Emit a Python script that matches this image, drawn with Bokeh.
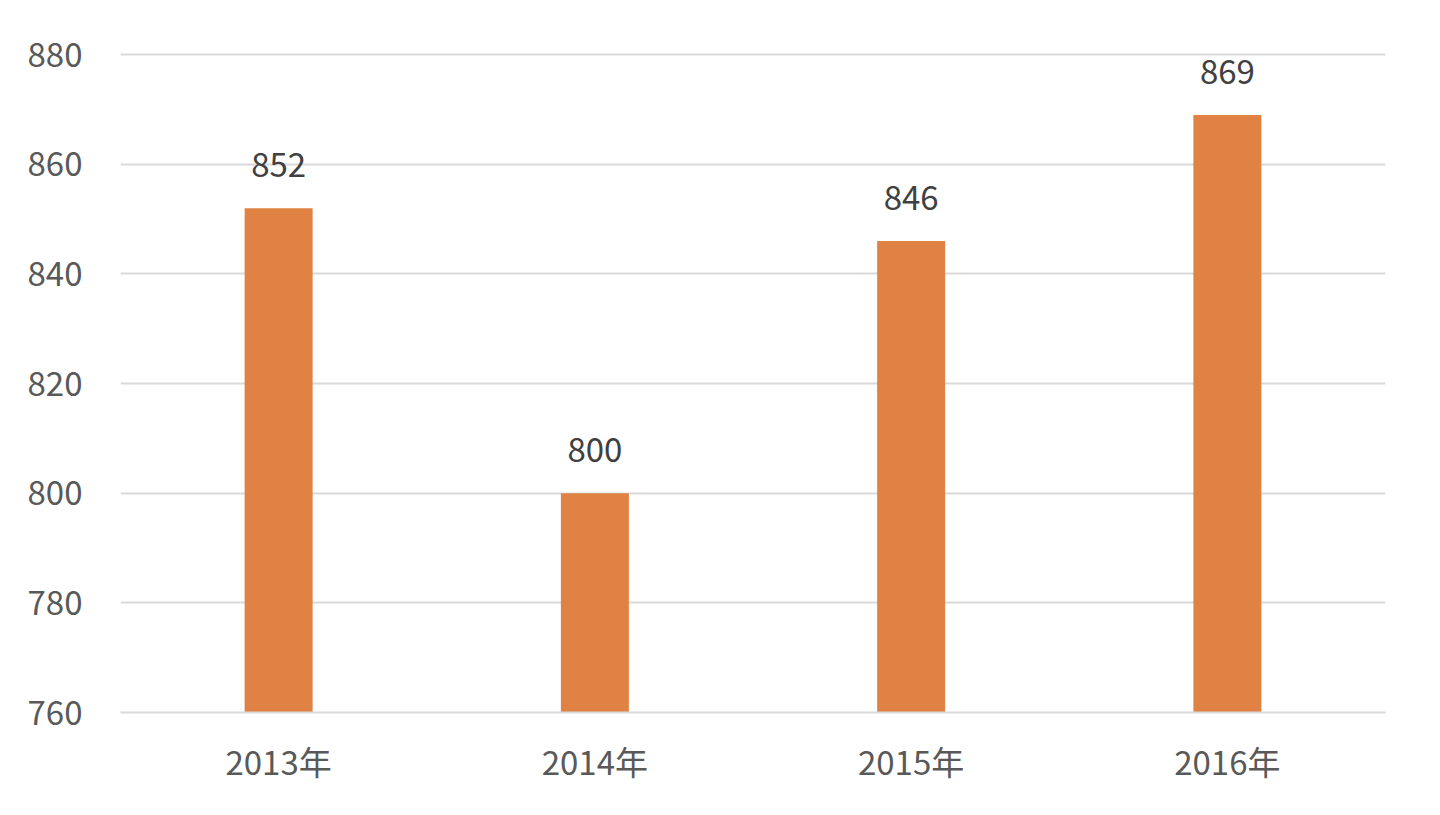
from bokeh.plotting import figure
from bokeh.models import ColumnDataSource, Range1d, FactorRange, SingleIntervalTicker, LabelSet
from bokeh.core.properties import value
from bokeh.embed import file_html
from bokeh.resources import INLINE

categories = ["2013年", "2014年", "2015年", "2016年"]
values = [852, 800, 846, 869]
y_min, y_max, y_step = 760, 880, 20

FONT = "Noto Sans CJK SC"

src = ColumnDataSource(dict(cat=categories, val=values, lbl=[str(v) for v in values]))

p = figure(width=1432, height=807, x_range=FactorRange(*categories, range_padding=0),
           y_range=Range1d(y_min, y_max + 0.4), output_backend="svg", toolbar_location=None,
           min_border_left=120, min_border_right=47, min_border_top=52, min_border_bottom=95)
p.outline_line_color = None
p.background_fill_color = "white"
p.border_fill_color = "white"

p.vbar(x="cat", top="val", bottom=y_min, width=0.215, source=src,
       fill_color="#DF8244", line_color=None)

labels = LabelSet(x="cat", y="val", text="lbl", source=src, text_align="center",
                  text_baseline="bottom", y_offset=31, text_color="#404040",
                  text_font=value(FONT), text_font_size="33px")
p.add_layout(labels)

p.yaxis.ticker = SingleIntervalTicker(interval=y_step)
p.yaxis.axis_line_color = None
p.yaxis.major_tick_line_color = None
p.yaxis.minor_tick_line_color = None
p.yaxis.major_label_text_font = FONT
p.yaxis.major_label_text_font_size = "33px"
p.yaxis.major_label_text_color = "#595959"
p.yaxis.major_label_standoff = 32

p.xaxis.axis_line_color = "#D9D9D9"
p.xaxis.axis_line_width = 2
p.xaxis.major_tick_line_color = None
p.xaxis.minor_tick_line_color = None
p.xaxis.major_label_text_font = FONT
p.xaxis.major_label_text_font_size = "33px"
p.xaxis.major_label_text_color = "#595959"
p.xaxis.major_label_standoff = 18

p.xgrid.grid_line_color = None
p.ygrid.grid_line_color = "#D9D9D9"
p.ygrid.grid_line_width = 2
p.ygrid.ticker = SingleIntervalTicker(interval=y_step)

open("out.html", "w").write(file_html(p, INLINE))
